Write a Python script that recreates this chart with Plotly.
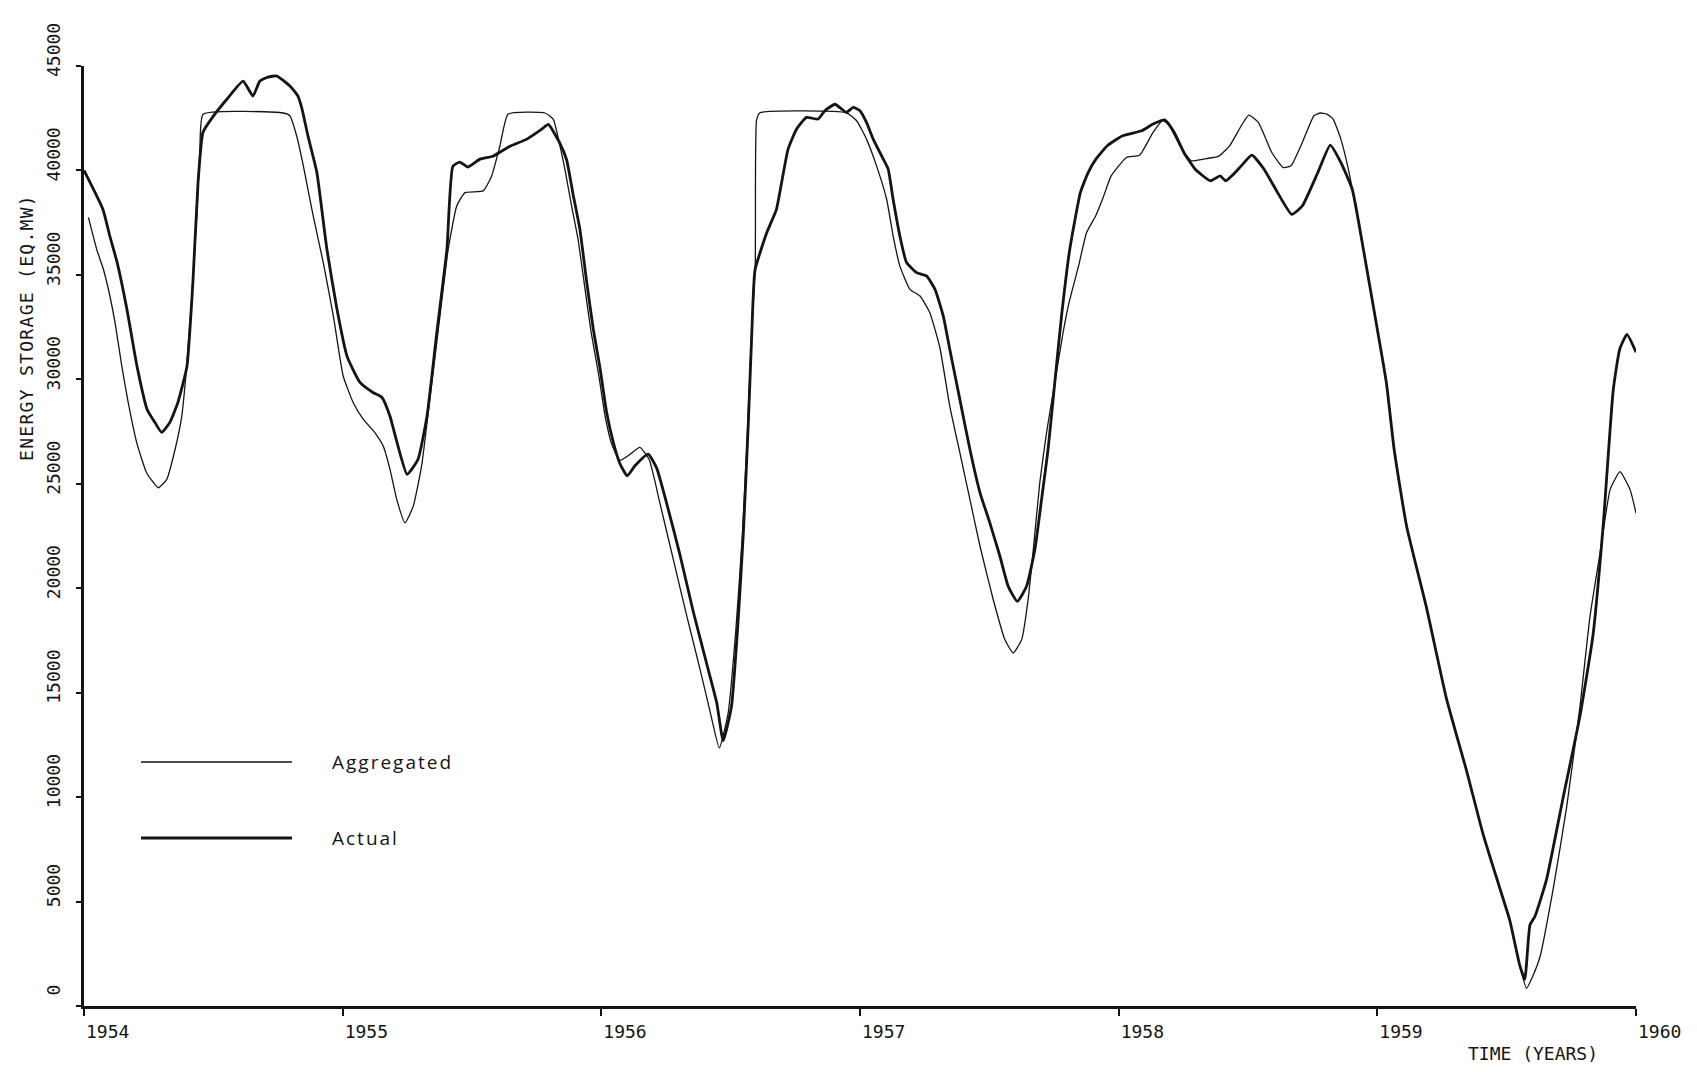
import plotly.graph_objects as go

# ---------------- data ----------------
year_ticks = [1954, 1955, 1956, 1957, 1958, 1959, 1960]
year_labels = ["1954", "1955", "1956", "1957", "1958", "1959", "1960"]
storage_ticks = [0, 5000, 10000, 15000, 20000, 25000, 30000, 35000, 40000, 45000]
storage_labels = ["0", "5000", "10000", "15000", "20000", "25000", "30000", "35000", "40000", "45000"]

# Aggregated model (thin line)
agg_year = [
    1954.017, 1954.049, 1954.075, 1954.100, 1954.120, 1954.146, 1954.171, 1954.204, 1954.242, 1954.287,
    1954.320, 1954.352, 1954.378, 1954.397, 1954.416, 1954.436, 1954.448, 1954.461, 1954.770, 1954.796,
    1954.822, 1954.848, 1954.886, 1954.925, 1954.964, 1955.002, 1955.041, 1955.080, 1955.125, 1955.157,
    1955.183, 1955.209, 1955.241, 1955.273, 1955.305, 1955.337, 1955.376, 1955.408, 1955.441, 1955.473,
    1955.543, 1955.576, 1955.608, 1955.640, 1955.782, 1955.814, 1955.840, 1955.860, 1955.885, 1955.910,
    1955.935, 1955.960, 1955.990, 1956.015, 1956.040, 1956.072, 1956.110, 1956.149, 1956.185, 1956.226,
    1956.278, 1956.330, 1956.380, 1956.420, 1956.456, 1956.490, 1956.520, 1956.545, 1956.565, 1956.580,
    1956.595, 1956.600, 1956.613, 1956.948, 1956.987, 1957.025, 1957.064, 1957.103, 1957.128, 1957.154,
    1957.193, 1957.232, 1957.270, 1957.309, 1957.347, 1957.386, 1957.425, 1957.464, 1957.515, 1957.560,
    1957.592, 1957.625, 1957.650, 1957.670, 1957.695, 1957.721, 1957.753, 1957.785, 1957.808, 1957.845,
    1957.876, 1957.911, 1957.940, 1957.971, 1958.030, 1958.081, 1958.133, 1958.170, 1958.192, 1958.237,
    1958.281, 1958.326, 1958.385, 1958.429, 1958.474, 1958.503, 1958.540, 1958.592, 1958.636, 1958.666,
    1958.710, 1958.755, 1958.780, 1958.805, 1958.829, 1958.859, 1958.888, 1958.920, 1958.946, 1958.991,
    1959.035, 1959.065, 1959.113, 1959.190, 1959.267, 1959.345, 1959.409, 1959.474, 1959.512, 1959.545,
    1959.577, 1959.600, 1959.629, 1959.680, 1959.732, 1959.783, 1959.822, 1959.861, 1959.900, 1959.938,
    1959.977, 1960.000,
]
agg_storage = [
    37750, 36230, 35270, 33990, 32710, 30640, 28880, 26960, 25530, 24810,
    25210, 26640, 28240, 30640, 33830, 37820, 41020, 42700, 42750, 42620,
    41660, 40220, 37820, 35590, 33030, 30160, 28880, 28080, 27440, 26800,
    25690, 24250, 23130, 23930, 25840, 29040, 33030, 36230, 38300, 38940,
    39020, 39740, 41180, 42700, 42750, 42460, 41180, 40000, 38300, 36700,
    34500, 32300, 30200, 28200, 26900, 26120, 26400, 26740, 26160, 24100,
    21390, 18690, 16200, 14120, 12350, 14000, 18000, 22500, 27500, 32000,
    35500, 42400, 42760, 42760, 42380, 41500, 40220, 38620, 36870, 35430,
    34310, 33990, 33190, 31500, 28720, 26490, 24250, 22010, 19460, 17540,
    16900, 17540, 19460, 21850, 25050, 27440, 29840, 32230, 33670, 35430,
    37030, 37820, 38700, 39740, 40620, 40730, 41820, 42380, 42220, 41180,
    40460, 40540, 40670, 41180, 42140, 42650, 42300, 40860, 40140, 40220,
    41340, 42620, 42750, 42700, 42460, 41500, 40060, 38000, 36230, 33030,
    29840, 26640, 22980, 19070, 14730, 11260, 8220, 5620, 4100, 2200,
    840, 1400, 2360, 5620, 9530, 14300, 18640, 21680, 24720, 25580,
    24720, 23600,
]

# Actual system (thick line)
act_year = [
    1954.000, 1954.073, 1954.100, 1954.128, 1954.166, 1954.205, 1954.244, 1954.274, 1954.300, 1954.332,
    1954.363, 1954.398, 1954.421, 1954.441, 1954.460, 1954.500, 1954.553, 1954.615, 1954.653, 1954.680,
    1954.711, 1954.746, 1954.796, 1954.827, 1954.843, 1954.866, 1954.900, 1954.939, 1954.978, 1955.017,
    1955.067, 1955.117, 1955.152, 1955.183, 1955.210, 1955.249, 1955.291, 1955.326, 1955.364, 1955.403,
    1955.426, 1955.453, 1955.484, 1955.531, 1955.581, 1955.647, 1955.712, 1955.770, 1955.795, 1955.840,
    1955.866, 1955.891, 1955.917, 1955.943, 1955.969, 1955.995, 1956.020, 1956.046, 1956.072, 1956.100,
    1956.130, 1956.181, 1956.214, 1956.252, 1956.304, 1956.355, 1956.407, 1956.446, 1956.471, 1956.503,
    1956.529, 1956.549, 1956.568, 1956.581, 1956.594, 1956.638, 1956.677, 1956.697, 1956.722, 1956.755,
    1956.793, 1956.838, 1956.864, 1956.903, 1956.929, 1956.948, 1956.974, 1957.000, 1957.025, 1957.051,
    1957.090, 1957.109, 1957.128, 1957.154, 1957.180, 1957.219, 1957.257, 1957.290, 1957.322, 1957.347,
    1957.386, 1957.425, 1957.464, 1957.502, 1957.541, 1957.573, 1957.608, 1957.644, 1957.676, 1957.702,
    1957.727, 1957.753, 1957.779, 1957.811, 1957.852, 1957.882, 1957.912, 1957.956, 1958.015, 1958.089,
    1958.133, 1958.178, 1958.215, 1958.252, 1958.296, 1958.355, 1958.392, 1958.414, 1958.444, 1958.474,
    1958.515, 1958.562, 1958.607, 1958.669, 1958.710, 1958.770, 1958.818, 1958.859, 1958.903, 1958.946,
    1958.991, 1959.035, 1959.065, 1959.113, 1959.190, 1959.267, 1959.345, 1959.409, 1959.474, 1959.512,
    1959.551, 1959.570, 1959.590, 1959.610, 1959.654, 1959.718, 1959.783, 1959.834, 1959.873, 1959.912,
    1959.937, 1959.965, 1960.000,
]
act_storage = [
    40000, 38140, 36850, 35600, 33350, 30620, 28560, 27940, 27460, 27940,
    28900, 30620, 34650, 39440, 41830, 42600, 43420, 44280, 43560, 44280,
    44470, 44520, 44040, 43560, 42940, 41640, 39920, 36230, 33350, 31100,
    29850, 29370, 29130, 28230, 26980, 25450, 26160, 28230, 32250, 36230,
    40200, 40400, 40160, 40540, 40680, 41160, 41500, 41980, 42200, 41300,
    40500, 38840, 37190, 34690, 32400, 30530, 28450, 27000, 25960, 25380,
    25860, 26420, 25750, 24090, 21600, 18900, 16400, 14530, 12700, 14330,
    18480, 22630, 27840, 31990, 35220, 36970, 38140, 39420, 41020, 41980,
    42540, 42460, 42860, 43170, 42940, 42780, 43020, 42860, 42300, 41500,
    40540, 40060, 38620, 36870, 35590, 35110, 34950, 34310, 33030, 31440,
    29040, 26640, 24570, 23130, 21530, 20090, 19370, 20090, 21850, 24250,
    26640, 29840, 33030, 36230, 38940, 39900, 40540, 41180, 41660, 41900,
    42220, 42420, 41820, 40860, 40060, 39500, 39740, 39500, 39820, 40220,
    40730, 40060, 39100, 37900, 38300, 39900, 41210, 40380, 39100, 36230,
    33030, 29840, 26640, 22980, 19070, 14730, 11260, 8220, 5620, 4100,
    1930, 1280, 3880, 4310, 6050, 9960, 13860, 17770, 22980, 29490,
    31440, 32150, 31300,
]

series_names = ["Aggregated", "Actual"]

# ---------------- figure ----------------
INK = "#141414"
MONO = "DejaVu Sans Mono"

fig = go.Figure()
fig.add_trace(go.Scatter(
    x=agg_year, y=agg_storage, mode="lines", name=series_names[0],
    line=dict(color=INK, width=1.3, shape="spline", smoothing=0.45), showlegend=False,
))
fig.add_trace(go.Scatter(
    x=act_year, y=act_storage, mode="lines", name=series_names[1],
    line=dict(color=INK, width=2.8, shape="spline", smoothing=0.45), showlegend=False,
))

W, H = 1697, 1072
ML, MR, MT, MB = 84, 61, 66, 66
pw, ph = W - ML - MR, H - MT - MB


def px_x(x):
    return (x - ML) / pw


def px_y(y):
    return (H - MB - y) / ph


# hand-drawn style legend (long line keys) inside the plot
legend_rows = [(series_names[0], 1.3, 762), (series_names[1], 2.8, 838)]
for name, wdt, ypix in legend_rows:
    fig.add_shape(type="line", xref="paper", yref="paper",
                  x0=px_x(141), x1=px_x(292), y0=px_y(ypix), y1=px_y(ypix),
                  line=dict(color=INK, width=wdt))
    fig.add_annotation(xref="paper", yref="paper", x=px_x(330), y=px_y(ypix),
                       xanchor="left", yanchor="middle", showarrow=False,
                       text="<span style='letter-spacing:2px'>" + name + "</span>",
                       font=dict(family="Open Sans", size=19, color=INK))

# axis titles
fig.add_annotation(xref="paper", yref="paper", x=px_x(26), y=px_y(328),
                   xanchor="center", yanchor="middle", showarrow=False, textangle=-90,
                   text="<span style='letter-spacing:1.3px'>ENERGY STORAGE (EQ.MW)</span>",
                   font=dict(family=MONO, size=18, color=INK))
fig.add_annotation(xref="paper", yref="paper", x=px_x(1533), y=px_y(1053),
                   xanchor="center", yanchor="middle", showarrow=False,
                   text="TIME (YEARS)",
                   font=dict(family=MONO, size=18, color=INK))

fig.update_layout(
    width=W, height=H,
    margin=dict(l=ML, r=MR, t=MT, b=MB, pad=0),
    paper_bgcolor="white", plot_bgcolor="white",
    showlegend=False,
    xaxis=dict(
        range=[1954, 1960], tickmode="array", tickvals=year_ticks, ticktext=year_labels,
        showgrid=False, zeroline=False, showline=True, linecolor=INK, linewidth=2.5,
        ticks="outside", ticklen=7, tickwidth=1.5, tickcolor=INK,
        ticklabelposition="outside right", ticklabelstandoff=8,
        tickfont=dict(family=MONO, size=18, color=INK),
    ),
    yaxis=dict(
        range=[0, 45000], tickmode="array", tickvals=storage_ticks, ticktext=storage_labels,
        showgrid=False, zeroline=False, showline=True, linecolor=INK, linewidth=2.5,
        ticks="outside", ticklen=5, tickwidth=1.5, tickcolor=INK,
        tickangle=-90, ticklabelposition="outside top", ticklabelstandoff=14,
        tickfont=dict(family=MONO, size=18, color=INK),
    ),
)

fig.write_html("out.html")
